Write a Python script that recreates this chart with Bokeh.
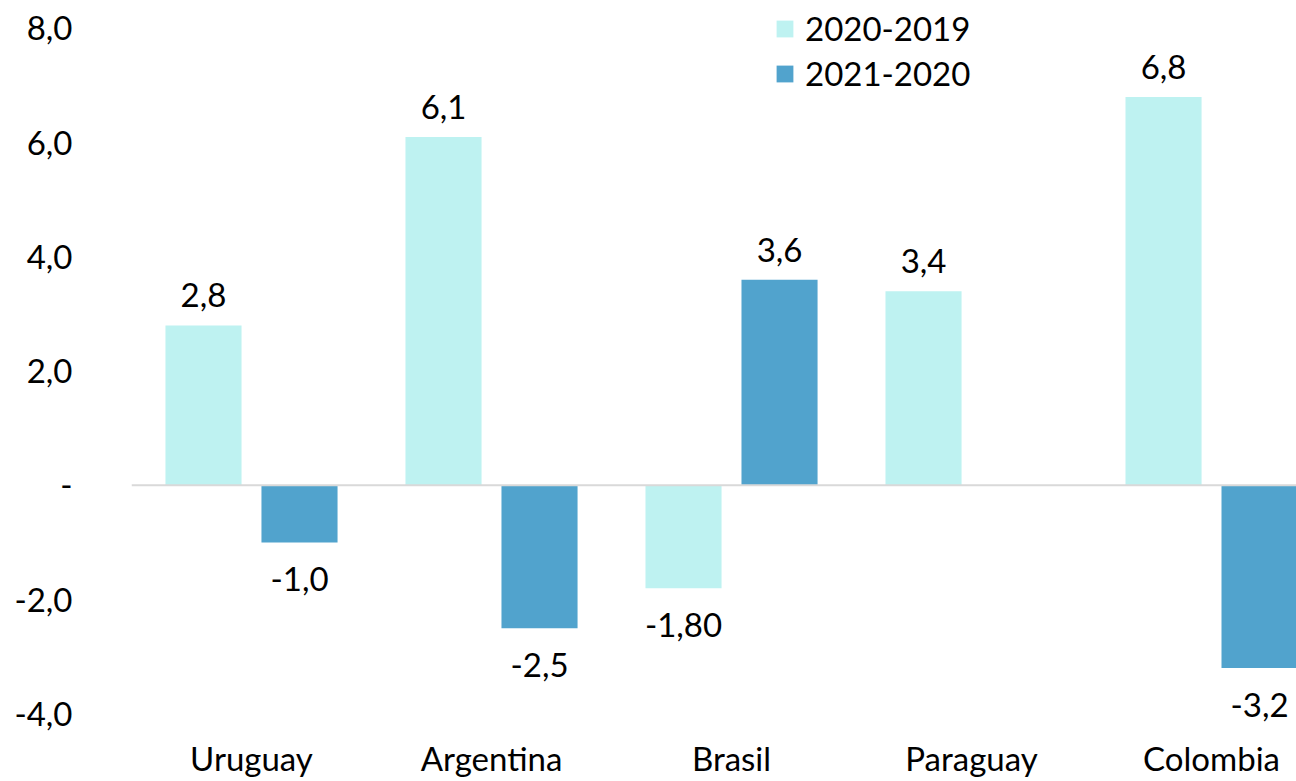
from bokeh.plotting import figure
from bokeh.models import ColumnDataSource, FixedTicker, Span, Legend, LegendItem
from bokeh.core.properties import value
from bokeh.embed import file_html
from bokeh.resources import INLINE

# ---- data ----
countries = ["Uruguay", "Argentina", "Brasil", "Paraguay", "Colombia"]
series = ["2020-2019", "2021-2020"]
v_2020_2019 = [2.8, 6.1, -1.8, 3.4, 6.8]
v_2021_2020 = [-1.0, -2.5, 3.6, None, -3.2]
lab_2020_2019 = ["2,8", "6,1", "-1,80", "3,4", "6,8"]
lab_2021_2020 = ["-1,0", "-2,5", "3,6", "", "-3,2"]
y_ticks = [-4, -2, 0, 2, 4, 6, 8]
y_tick_labels = ["-4,0", "-2,0", "-", "2,0", "4,0", "6,0", "8,0"]

# ---- style ----
FONT = "Lato"
FS = "33px"
colors = ["#BEF2F1", "#51A3CD"]
offsets = [-0.2, 0.2]
bar_w = 0.317

p = figure(width=1296, height=780, output_backend="svg", toolbar_location=None,
           x_range=(-0.5, 4.354), y_range=(-4.17, 8.49),
           min_border_left=131, min_border_right=0, min_border_top=0,
           min_border_bottom=55)
p.outline_line_color = None
p.grid.visible = False
p.background_fill_color = "white"

renderers = []
for vals, labs, col, off in [(v_2020_2019, lab_2020_2019, colors[0], offsets[0]),
                             (v_2021_2020, lab_2021_2020, colors[1], offsets[1])]:
    xs, ys, ts, yo = [], [], [], []
    for i, (v, t) in enumerate(zip(vals, labs)):
        if v is None:
            continue
        xs.append(i + off)
        ys.append(v)
        ts.append(t)
        yo.append(-30 if v >= 0 else 37)
    src = ColumnDataSource(dict(x=xs, top=ys, text=ts, yo=yo))
    r = p.vbar(x="x", top="top", bottom=0, width=bar_w, source=src,
               fill_color=col, line_color=None)
    renderers.append(r)
    p.text(x="x", y="top", text="text", y_offset="yo", source=src,
           text_align="center", text_baseline="middle",
           text_font=value(FONT), text_font_size=FS, text_color="#000000")

zero = Span(location=0, dimension="width", line_color="#D9D9D9", line_width=2)
p.add_layout(zero)

# x axis
p.xaxis.ticker = FixedTicker(ticks=list(range(len(countries))))
p.xaxis.major_label_overrides = {i: c for i, c in enumerate(countries)}
p.xaxis.axis_line_color = None
p.xaxis.major_tick_line_color = None
p.xaxis.minor_tick_line_color = None
p.xaxis.major_label_standoff = 8
p.xaxis.major_label_text_font = FONT
p.xaxis.major_label_text_font_size = FS
p.xaxis.major_label_text_color = "#000000"

# y axis
p.yaxis.ticker = FixedTicker(ticks=y_ticks)
p.yaxis.major_label_overrides = {t: l for t, l in zip(y_ticks, y_tick_labels)}
p.yaxis.axis_line_color = None
p.yaxis.major_tick_line_color = None
p.yaxis.minor_tick_line_color = None
p.yaxis.major_label_standoff = 53
p.yaxis.major_label_text_font = FONT
p.yaxis.major_label_text_font_size = FS
p.yaxis.major_label_text_color = "#000000"

legend = Legend(items=[LegendItem(label=s, renderers=[r]) for s, r in zip(series, renderers)],
                location=(643, 630))
legend.border_line_color = None
legend.background_fill_alpha = 0
legend.padding = 0
legend.margin = 0
legend.spacing = 5
legend.glyph_width = 21
legend.glyph_height = 21
legend.label_standoff = 10
legend.label_text_font = FONT
legend.label_text_font_size = FS
legend.label_text_color = "#000000"
p.add_layout(legend)

open("out.html", "w").write(file_html(p, INLINE))
